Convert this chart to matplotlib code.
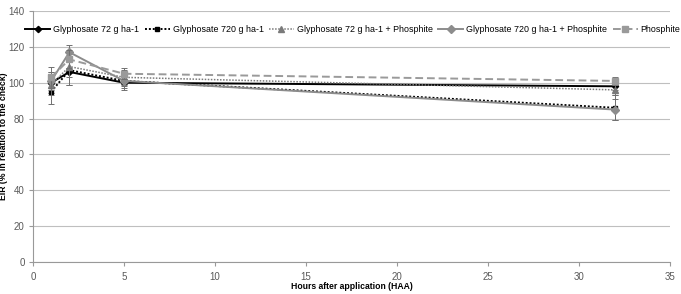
import matplotlib
matplotlib.use("Agg")
import matplotlib.pyplot as plt
import numpy as np

plt.rcParams['font.family'] = ['Liberation Sans', 'DejaVu Sans']

hours = [1, 2, 5, 32]
labels = ["Glyphosate 72 g ha-1", "Glyphosate 720 g ha-1", "Glyphosate 72 g ha-1 + Phosphite",
          "Glyphosate 720 g ha-1 + Phosphite", "Phosphite"]
g72 = [100, 106, 100, 98]
g720 = [95, 107, 101, 86]
g72p = [99, 109, 103, 96]
g720p = [101, 117, 101, 85]
phos = [103, 113, 105, 101]
err_g72 = [6, 7, 3, 2]
err_g720 = [7, 8, 5, 7]
err_g72p = [6, 6, 4, 3]
err_g720p = [5, 4, 3, 6]
err_phos = [6, 5, 3, 2]

series = [g72, g720, g72p, g720p, phos]
errs = [err_g72, err_g720, err_g72p, err_g720p, err_phos]
styles = [
    dict(color="black", ls="-", marker="D", ms=3.2, lw=1.4),
    dict(color="black", ls=(0, (1, 1)), marker="s", ms=3.2, lw=1.4),
    dict(color="#7a7a7a", ls=(0, (1, 1)), marker="^", ms=3.8, lw=1.1),
    dict(color="#8c8c8c", ls="-", marker="D", ms=3.8, lw=1.4),
    dict(color="#9a9a9a", ls=(0, (4, 2)), marker="s", ms=4.2, lw=1.4),
]

fig = plt.figure(figsize=(6.81, 2.94), dpi=100)
ax = fig.add_axes([33/681, 32/294, 637/681, 251/294])
for y, e, st, lab in zip(series, errs, styles, labels):
    ax.errorbar(hours, y, yerr=e, fmt="none", ecolor="#707070", elinewidth=0.7,
                capsize=2, capthick=0.7)
    ax.plot(hours, y, color=st["color"], ls=st["ls"], lw=st["lw"],
            marker=st["marker"], ms=st["ms"], label=lab)

ax.set_xlim(0, 35)
ax.set_ylim(0, 140)
ax.set_xticks(range(0, 36, 5))
ax.set_yticks(range(0, 141, 20))
ax.grid(axis="y", color="#bfbfbf", lw=0.8)
ax.set_axisbelow(True)
for s in ["top", "right"]:
    ax.spines[s].set_visible(False)
ax.spines["left"].set_color("#999999")
ax.spines["bottom"].set_color("#999999")
ax.tick_params(labelsize=7, colors="#595959", length=3, color="#999999", pad=4)
ax.tick_params(axis="y", pad=3)
ax.set_xlabel("Hours after application (HAA)", fontsize=6.2, fontweight="bold")
ax.xaxis.set_label_coords(0.5, -0.08)
ax.set_ylabel("EIR (% in relation to the check)", fontsize=6.2, fontweight="bold")
ax.yaxis.set_label_coords(-0.040, 0.5)
leg = ax.legend(loc="center left", bbox_to_anchor=(-0.012, 0.927), ncol=5, frameon=False,
                fontsize=6.4, handlelength=2.8, columnspacing=0.6, handletextpad=0.35,
                borderaxespad=0, borderpad=0)
fig.savefig("out.png", dpi=100)
